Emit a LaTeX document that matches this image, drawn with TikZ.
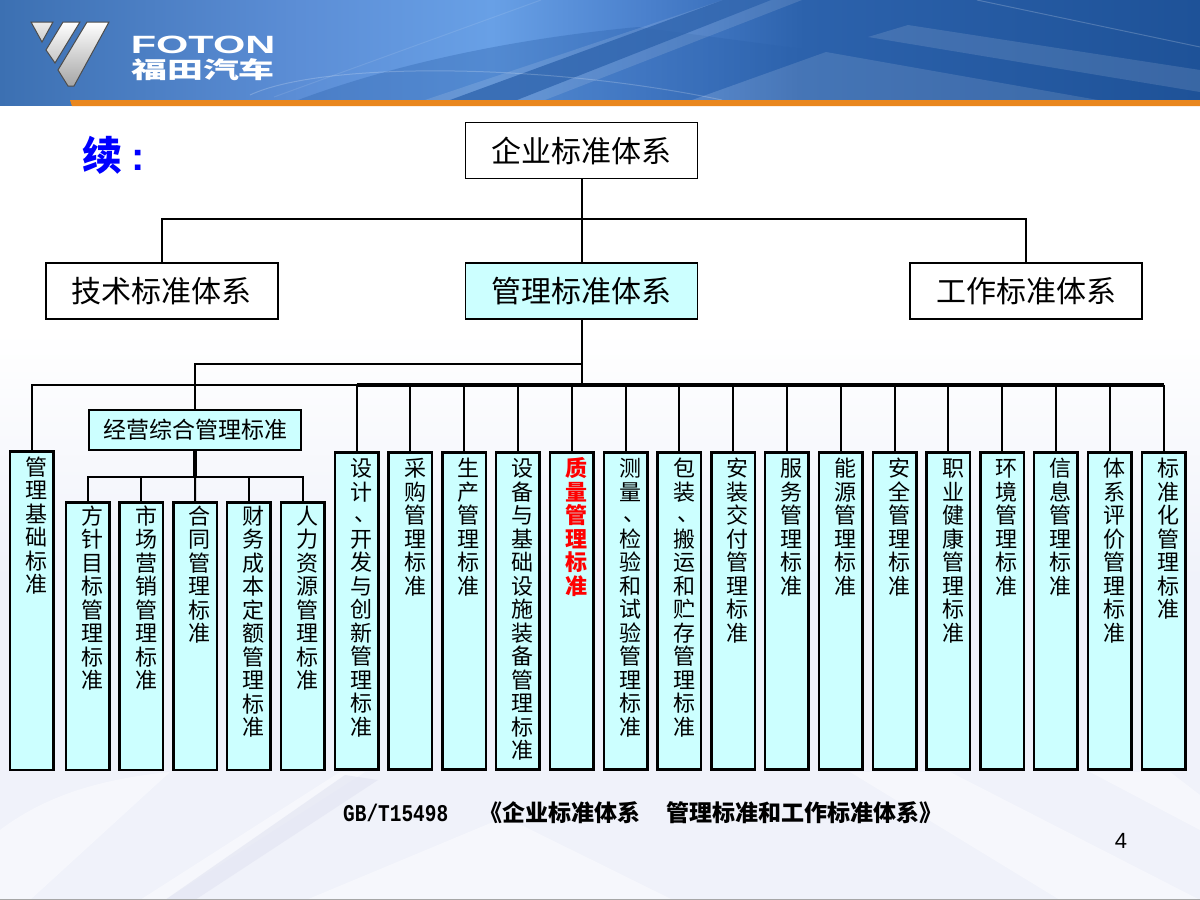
\documentclass[tikz,border=0pt]{standalone}
\usepackage{fontspec}
\setmainfont{Noto Sans CJK SC}
\newfontfamily\latinsans{Liberation Sans}
\newfontfamily\latinmono{Liberation Mono}
\usepackage{xcolor}
\usepackage{tikz}
\usetikzlibrary{arrows.meta,positioning,calc}
\definecolor{cyanfill}{HTML}{CCFFFF}
\definecolor{stripe}{HTML}{E9871E}
\definecolor{titleblue}{HTML}{0000FF}
\definecolor{slidetint}{HTML}{F0F2FA}
\definecolor{slideband}{HTML}{E4E6F3}
\definecolor{headleft}{HTML}{3C70B2}
\definecolor{headlight}{HTML}{5C8ED6}
\definecolor{headpeak}{HTML}{68A0E6}
\definecolor{headmid}{HTML}{4A80CC}
\definecolor{headdeep}{HTML}{2C62AC}
\definecolor{headright}{HTML}{1E5298}
\pgfdeclarehorizontalshading{headshade}{100bp}{color(0bp)=(headleft);
  color(25bp)=(headleft);
  color(37.5bp)=(headlight);
  color(45.5bp)=(headpeak);
  color(52bp)=(headmid);
  color(58.5bp)=(headdeep);
  color(75bp)=(headright);
  color(100bp)=(headright)}
\newcommand{\vpause}{\smash{\raisebox{2pt}{\makebox[0pt][r]{、\hspace{-4pt}}}}}
\tikzset{
  link/.style={draw=black,line width=2pt},
  buslink/.style={draw=black,line width=3.5pt},
  topbox/.style={draw=black,line width=1.8pt,fill=white,align=center,
    minimum width=232pt,minimum height=56pt,font=\fontsize{30}{32}\selectfont},
  cyanbox/.style={topbox,fill=cyanfill},
  wordbox/.style={draw=black,line width=2.5pt,fill=cyanfill,inner ysep=0pt,
    inner xsep=6pt,text width=31.5pt,align=right,font=\fontsize{22}{23.5}\selectfont},
  tallbox/.style={wordbox,text height=24pt,text depth=293pt},
  rootbox/.style={wordbox,text height=24pt,text depth=294.5pt},
  shortbox/.style={wordbox,text height=22pt,text depth=245.5pt},
  bandfill/.style={fill=slideband,opacity=.7},
  glow/.style={fill=white,opacity=.45}
}

\begin{document}
\begin{tikzpicture}[x=1pt,y=-1pt,node distance=7.8pt]
  \useasboundingbox (0,0) rectangle (1200,900);
  % slide background
  \fill[top color=white,bottom color=slidetint] (0,330) rectangle (1200,580);
  \fill[white] (0,105) rectangle (1200,330);
  \fill[slidetint] (0,580) rectangle (1200,900);
  \fill[glow] (0,900) -- (0,830) .. controls (40,800) and (90,780) .. (170,772) -- (30,900) -- cycle;
  \fill[glow] (140,900) -- (340,772) -- (365,772) -- (165,900) -- cycle;
  \fill[bandfill] (165,900) -- (345,775) -- (378,780) -- (195,900) -- cycle;
  \fill[glow] (306,900) -- (505,817) -- (673,900) -- cycle;
  \fill[glow] (850,772) -- (950,772) -- (1200,900) -- (1060,900) -- cycle;
  \fill[glow] (1090,772) -- (1170,772) -- (1200,795) -- (1200,830) -- cycle;
  \fill[gray!70] (0,899) rectangle (1200,900);
  % banner
  \shade[shading=headshade] (0,0) rectangle (1200,105);
  \fill[headdeep,opacity=.35] (298,100) .. controls (400,62) and (520,38) .. (638,27) -- (826,52) -- (692,100) -- cycle;
  \fill[white,opacity=.12] (425,100) -- (545,100) -- (802,0) -- (723,0) -- cycle;
  \fill[headdeep,opacity=.75] (450,100) -- (517,100) -- (771,0) -- (723,0) -- cycle;
  \fill[white,opacity=.12] (692,100) -- (826,52) -- (1098,100) -- cycle;
  \fill[white,opacity=.12] (868,37) -- (908,25) -- (1200,70) -- (1200,92) -- cycle;
  \draw[white,opacity=.2,line width=1pt] (250,95) .. controls (320,62) and (540,62) .. (722,100);
  \draw[white,opacity=.2,line width=1pt] (977,0) -- (1200,47);
  \draw[white,opacity=.1,line width=1pt] (274,97) -- (541,0);
  \fill[stripe] (70,100) -- (1200,100) -- (1200,106) -- (72,106) -- cycle;
  % logo
  \draw[draw=gray!60!black,line width=1pt,top color=white,bottom color=gray!70]
    (109,22) -- (87,22) -- (58,70) -- (68,86) -- (74,86) -- cycle;
  \draw[draw=gray!60!black,line width=1pt,top color=white,bottom color=gray!45]
    (80,22) -- (63,22) -- (46,50) -- (55,63) -- cycle;
  \draw[draw=gray!60!black,line width=1pt,top color=gray!15,bottom color=gray!40]
    (53,22) -- (31,22) -- (42,42) -- cycle;
  \node[text=white,inner sep=0pt,font=\latinsans\bfseries\fontsize{25}{25}\selectfont] (fotonname) at (203,45) {\scalebox{1.66}[1]{FOTON}};
  \node[text=white,inner sep=0pt,font=\bfseries\fontsize{23}{23}\selectfont] (fotoncn) at (203,70) {\scalebox{1.56}[1]{福田汽车}};
  % title and foot
  \node[text=titleblue,inner sep=0pt,anchor=west,font=\bfseries\fontsize{40}{42}\selectfont] (cont) at (82,155)
    {续\hspace{9.5pt}{\latinsans:}};
  \node[inner sep=0pt,anchor=west,font=\bfseries\fontsize{23}{25}\selectfont] (source) at (343,813)
    {{\latinmono\fontsize{24}{25}\selectfont\scalebox{.81}[1]{GB/T15498}}\hspace{31pt}《企业标准体系\hspace{26pt}管理标准和工作标准体系》};
  \node[inner sep=0pt,font=\latinsans\fontsize{22}{24}\selectfont] (pageno) at (1121,841) {4};
  % upper levels
  \node[topbox] (root) at (581.5,150.5) {企业标准体系};
  \node[cyanbox,below=82.5pt of root] (mgmt) {管理标准体系};
  \node[topbox,left=186pt of mgmt] (tech) {技术标准体系};
  \node[topbox,right=211pt of mgmt] (work) {工作标准体系};
  \node[draw=black,line width=2.5pt,fill=cyanfill,minimum width=212pt,minimum height=40pt,inner sep=0pt,
    font=\fontsize{23}{25}\selectfont] (biz) at (195,430) {经营综合管理标准};
  % columns
  \node[rootbox] (basis) at (31.5,610.5) {管\\理\\基\\础\\标\\准};
  \node[shortbox] (policy) at (87.5,636) {方\\针\\目\\标\\管\\理\\标\\准};
  \node[shortbox,right=of policy] (market) {市\\场\\营\\销\\管\\理\\标\\准};
  \node[shortbox,right=of market] (contract) {合\\同\\管\\理\\标\\准};
  \node[shortbox,right=of contract] (finance) {财\\务\\成\\本\\定\\额\\管\\理\\标\\准};
  \node[shortbox,right=of finance] (people) {人\\力\\资\\源\\管\\理\\标\\准};
  \node[tallbox] (design) at (356.5,611) {设\\计\\\vpause\\开\\发\\与\\创\\新\\管\\理\\标\\准};
  \node[tallbox,right=of design] (purchase) {采\\购\\管\\理\\标\\准};
  \node[tallbox,right=of purchase] (produce) {生\\产\\管\\理\\标\\准};
  \node[tallbox,right=of produce] (equip) {设\\备\\与\\基\\础\\设\\施\\装\\备\\管\\理\\标\\准};
  \node[tallbox,right=of equip,text=red,font=\bfseries\fontsize{22}{23.5}\selectfont] (quality) {质\\量\\管\\理\\标\\准};
  \node[tallbox,right=of quality] (measure) {测\\量\\\vpause\\检\\验\\和\\试\\验\\管\\理\\标\\准};
  \node[tallbox,right=of measure] (pack) {包\\装\\\vpause\\搬\\运\\和\\贮\\存\\管\\理\\标\\准};
  \node[tallbox,right=of pack] (install) {安\\装\\交\\付\\管\\理\\标\\准};
  \node[tallbox,right=of install] (service) {服\\务\\管\\理\\标\\准};
  \node[tallbox,right=of service] (energy) {能\\源\\管\\理\\标\\准};
  \node[tallbox,right=of energy] (safety) {安\\全\\管\\理\\标\\准};
  \node[tallbox,right=of safety] (health) {职\\业\\健\\康\\管\\理\\标\\准};
  \node[tallbox,right=of health] (env) {环\\境\\管\\理\\标\\准};
  \node[tallbox,right=of env] (info) {信\\息\\管\\理\\标\\准};
  \node[tallbox,right=of info] (assess) {体\\系\\评\\价\\管\\理\\标\\准};
  \node[tallbox,right=of assess] (stdize) {标\\准\\化\\管\\理\\标\\准};
  % connectors
  \coordinate (rootbus) at (581.5,219);
  \coordinate (upperbus) at (581.5,364);
  \coordinate (lowerbus) at (581.5,385);
  \coordinate (bizbus) at (195,476.5);
  \draw[link] (root.south) -- (mgmt.north);
  \draw[link] (tech.north) |- (rootbus) -| (work.north);
  \draw[link] (mgmt.south) -- (lowerbus);
  \draw[link] (biz.north) |- (upperbus);
  \draw[link] (basis.north) |- (lowerbus);
  \draw[buslink] (design.north |- lowerbus) -- (stdize.north |- lowerbus);
  \draw[link] (design.north) -- (design.north |- lowerbus);
  \draw[link] (purchase.north) -- (purchase.north |- lowerbus);
  \draw[link] (produce.north) -- (produce.north |- lowerbus);
  \draw[link] (equip.north) -- (equip.north |- lowerbus);
  \draw[link] (quality.north) -- (quality.north |- lowerbus);
  \draw[link] (measure.north) -- (measure.north |- lowerbus);
  \draw[link] (pack.north) -- (pack.north |- lowerbus);
  \draw[link] (install.north) -- (install.north |- lowerbus);
  \draw[link] (service.north) -- (service.north |- lowerbus);
  \draw[link] (energy.north) -- (energy.north |- lowerbus);
  \draw[link] (safety.north) -- (safety.north |- lowerbus);
  \draw[link] (health.north) -- (health.north |- lowerbus);
  \draw[link] (env.north) -- (env.north |- lowerbus);
  \draw[link] (info.north) -- (info.north |- lowerbus);
  \draw[link] (assess.north) -- (assess.north |- lowerbus);
  \draw[link] (stdize.north) -- (stdize.north |- lowerbus);
  \draw[buslink] (biz.south) -- (bizbus);
  \draw[link] (policy.north) |- (bizbus);
  \draw[link] (market.north) |- (bizbus);
  \draw[link] (contract.north) -- (bizbus);
  \draw[link] (finance.north) |- (bizbus);
  \draw[link] (people.north) |- (bizbus);
\end{tikzpicture}
\end{document}
